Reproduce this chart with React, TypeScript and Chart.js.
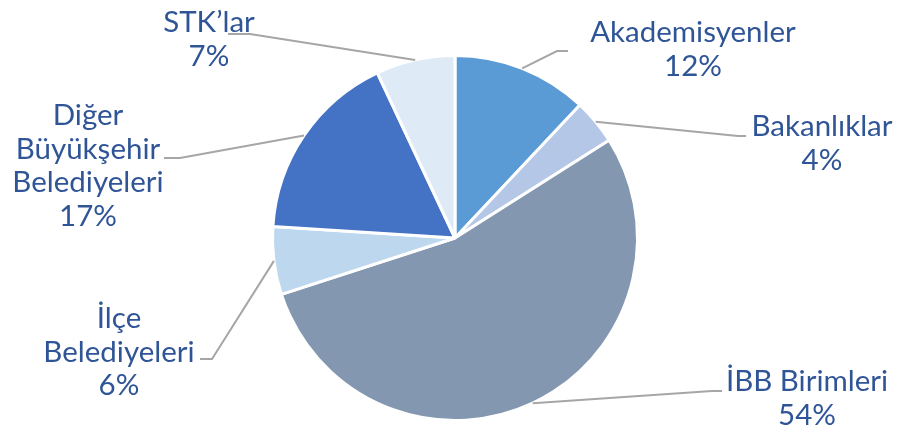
import React, { useEffect, useRef } from "react";
import { Chart, registerables } from "chart.js";

Chart.register(...registerables);

const categories = ["Akademisyenler", "Bakanlıklar", "İBB Birimleri", "İlçe Belediyeleri", "Diğer Büyükşehir Belediyeleri", "STK’lar"];
const values = [12, 4, 54, 6, 17, 7];
const labelLines = [
  ["Akademisyenler"],
  ["Bakanlıklar"],
  ["İBB Birimleri"],
  ["İlçe", "Belediyeleri"],
  ["Diğer", "Büyükşehir", "Belediyeleri"],
  ["STK’lar"],
];
const colors = ["#5B9BD5", "#B4C7E7", "#8497B0", "#BDD7EE", "#4472C4", "#DEEBF7"];

// label layout: text center x, first baseline y, elbow point, horizontal end
const labelLayout = [
  { cx: 693, by: 42, elbow: [557, 51], end: [568, 51] },
  { cx: 822, by: 136, elbow: [738, 136], end: [746, 136] },
  { cx: 807, by: 391, elbow: [712, 391], end: [722, 391] },
  { cx: 119, by: 328, elbow: [212, 359], end: [200, 359] },
  { cx: 88, by: 125, elbow: [180, 158], end: [164, 158] },
  { cx: 209, by: 32, elbow: [250, 34], end: [228, 34] },
];

const FONT = "400 29.5px Lato, 'Open Sans', sans-serif";
const TEXT_COLOR = "#2F5597";
const LINE_H = 33.5;

const labelPlugin = {
  id: "outLabels",
  afterDatasetsDraw(chart: any) {
    const ctx = chart.ctx;
    const meta = chart.getDatasetMeta(0);
    const total = values.reduce((a, b) => a + b, 0);
    ctx.save();
    meta.data.forEach((arc: any, i: number) => {
      const { x, y, startAngle, endAngle, outerRadius } = arc.getProps(["x", "y", "startAngle", "endAngle", "outerRadius"], true);
      const mid = (startAngle + endAngle) / 2;
      const sx = x + Math.cos(mid) * outerRadius;
      const sy = y + Math.sin(mid) * outerRadius;
      const L = labelLayout[i];
      ctx.strokeStyle = "#A6A6A6";
      ctx.lineWidth = 2;
      ctx.beginPath();
      ctx.moveTo(sx, sy);
      ctx.lineTo(L.elbow[0], L.elbow[1]);
      ctx.lineTo(L.end[0], L.end[1]);
      ctx.stroke();
      ctx.fillStyle = TEXT_COLOR;
      ctx.font = FONT;
      ctx.textAlign = "center";
      ctx.textBaseline = "alphabetic";
      const lines = [...labelLines[i], Math.round((values[i] / total) * 100) + "%"];
      lines.forEach((t, k) => ctx.fillText(t, L.cx, L.by + k * LINE_H));
    });
    ctx.restore();
  },
};

export default function App() {
  const ref = useRef<HTMLCanvasElement>(null);
  useEffect(() => {
    document.body.style.margin = "0";
    const chart = new Chart(ref.current!, {
      type: "pie",
      data: {
        labels: categories,
        datasets: [
          {
            data: values,
            backgroundColor: colors,
            borderColor: "#FFFFFF",
            borderWidth: 3,
          },
        ],
      },
      options: {
        animation: false,
        responsive: false,
        layout: { padding: { top: 54, bottom: 11, left: 271, right: 259 } },
        plugins: { legend: { display: false }, tooltip: { enabled: false } },
      },
      plugins: [labelPlugin],
    });
    return () => chart.destroy();
  }, []);
  return (
    <div style={{ width: 898, height: 433, background: "#fff" }}>
      <canvas ref={ref} width={898} height={433} />
    </div>
  );
}
